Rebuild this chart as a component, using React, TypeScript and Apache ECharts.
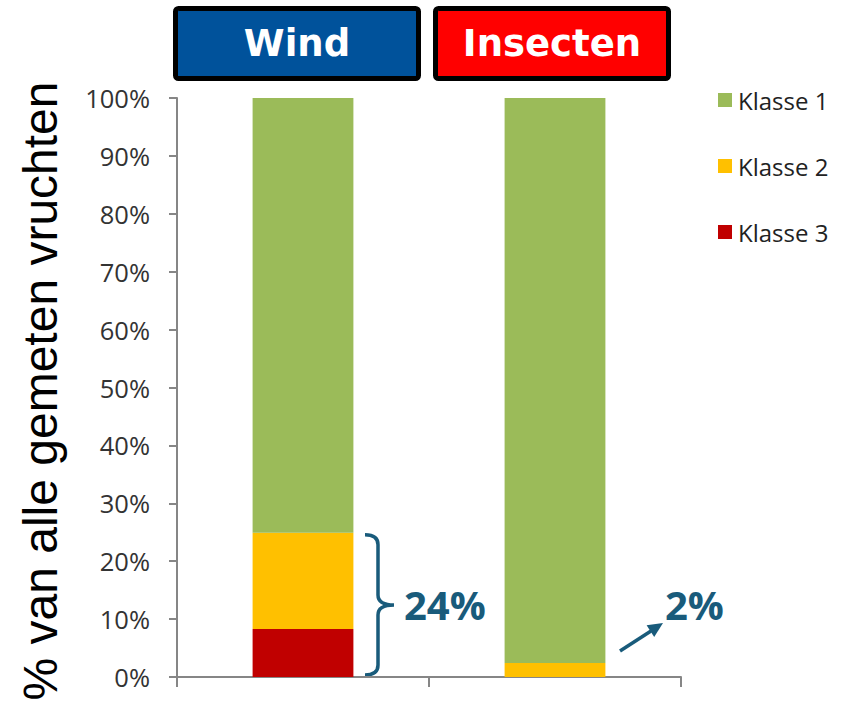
import React, { useEffect, useRef } from "react";
import * as echarts from "echarts";

const categories = ["Wind", "Insecten"];
const klasse1 = [75.1, 97.6];
const klasse2 = [16.6, 2.4];
const klasse3 = [8.3, 0];
const seriesNames = ["Klasse 1", "Klasse 2", "Klasse 3"];
const yTicks = { min: 0, max: 100, interval: 10 };
const headerLabels = ["Wind", "Insecten"];
const annotationLabels = ["24%", "2%"];

const GREEN = "#9BBB59";
const YELLOW = "#FFC000";
const RED = "#C00000";
const TEAL = "#195B7B";
const AXIS = "#868686";

export default function App() {
  const ref = useRef<HTMLDivElement>(null);

  useEffect(() => {
    if (!ref.current) return;
    const chart = echarts.init(ref.current, null, { renderer: "svg" });

    echarts.graphic.registerShape(
      "brace",
      echarts.graphic.extendPath(
        "M0,0 Q13,0 13,10 L13,60 Q13,70 29,70 Q13,70 13,80 L13,130 Q13,140 0,140",
        {}
      )
    );

    const option: any = {
      animation: false,
      grid: { left: 177, top: 98, right: 161, bottom: 29, containLabel: false },
      legend: {
        orient: "vertical",
        left: 713,
        top: 83,
        itemWidth: 14,
        itemHeight: 14,
        itemGap: 42,
        icon: "rect",
        data: seriesNames,
        textStyle: {
          fontFamily: "Open Sans",
          fontSize: 24,
          color: "#222",
          padding: [0, 0, 0, 1],
        },
      },
      xAxis: {
        type: "category",
        data: categories,
        boundaryGap: true,
        axisLine: { show: true, lineStyle: { color: AXIS, width: 2 } },
        axisTick: { show: true, length: 10, lineStyle: { color: AXIS, width: 2 } },
        axisLabel: { show: false },
        splitLine: { show: false },
      },
      yAxis: {
        type: "value",
        min: yTicks.min,
        max: yTicks.max,
        interval: yTicks.interval,
        axisLine: { show: true, lineStyle: { color: AXIS, width: 2 } },
        axisTick: { show: true, length: 8, lineStyle: { color: AXIS, width: 2 } },
        axisLabel: {
          formatter: "{value}%",
          margin: 27,
          fontFamily: "Open Sans",
          fontSize: 25.5,
          color: "#333",
        },
        splitLine: { show: false },
      },
      series: [
        {
          name: "Klasse 3",
          type: "bar",
          stack: "total",
          data: klasse3,
          barWidth: "40%",
          itemStyle: { color: RED },
        },
        {
          name: "Klasse 2",
          type: "bar",
          stack: "total",
          data: klasse2,
          barWidth: "40%",
          itemStyle: { color: YELLOW },
        },
        {
          name: "Klasse 1",
          type: "bar",
          stack: "total",
          data: klasse1,
          barWidth: "40%",
          itemStyle: { color: GREEN },
        },
      ],
    };
    chart.setOption(option);

    const windTotal = klasse2[0] + klasse3[0];
    const yTop = chart.convertToPixel({ yAxisIndex: 0 }, windTotal) as number;
    const yBottom = chart.convertToPixel({ yAxisIndex: 0 }, 0) as number;
    const braceTop = yTop + 2;
    const braceBottom = yBottom - 2;
    const braceMid = (braceTop + braceBottom) / 2;

    chart.setOption({
      graphic: [
        {
          type: "text",
          x: 40,
          y: 391,
          rotation: Math.PI / 2,
          style: {
            text: "% van alle gemeten vruchten",
            fontFamily: "Liberation Sans",
            fontSize: 48,
            fill: "#000",
            align: "center",
            verticalAlign: "middle",
          },
        },
        {
          type: "rect",
          shape: { x: 175.5, y: 8.5, width: 243, height: 70, r: 3 },
          style: { fill: "#00529B", stroke: "#000", lineWidth: 5 },
        },
        {
          type: "text",
          x: 297,
          y: 43,
          style: {
            text: headerLabels[0],
            fontFamily: "DejaVu Sans",
            fontWeight: "bold",
            fontSize: 37,
            fill: "#fff",
            align: "center",
            verticalAlign: "middle",
          },
        },
        {
          type: "rect",
          shape: { x: 435.5, y: 8.5, width: 233, height: 70, r: 3 },
          style: { fill: "#FF0000", stroke: "#000", lineWidth: 5 },
        },
        {
          type: "text",
          x: 552,
          y: 43,
          style: {
            text: headerLabels[1],
            fontFamily: "DejaVu Sans",
            fontWeight: "bold",
            fontSize: 37,
            fill: "#fff",
            align: "center",
            verticalAlign: "middle",
          },
        },
        {
          type: "brace",
          x: 365,
          y: braceTop,
          scaleX: 1,
          scaleY: (braceBottom - braceTop) / 140,
          style: { fill: null, stroke: TEAL, lineWidth: 3.5, strokeNoScale: true },
        },
        {
          type: "text",
          x: 404,
          y: braceMid,
          style: {
            text: annotationLabels[0],
            fontFamily: "Open Sans",
            fontWeight: "bold",
            fontSize: 40,
            fill: TEAL,
            align: "left",
            verticalAlign: "middle",
          },
        },
        {
          type: "text",
          x: 665,
          y: braceMid,
          style: {
            text: annotationLabels[1],
            fontFamily: "Open Sans",
            fontWeight: "bold",
            fontSize: 40,
            fill: TEAL,
            align: "left",
            verticalAlign: "middle",
          },
        },
        {
          type: "line",
          shape: { x1: 620, y1: 651, x2: 651, y2: 631 },
          style: { stroke: TEAL, lineWidth: 3.5 },
        },
        {
          type: "polygon",
          shape: {
            points: [
              [663, 623],
              [654.2, 637.1],
              [646.6, 625.3],
            ],
          },
          style: { fill: TEAL },
        },
      ],
    });

    return () => {
      chart.dispose();
    };
  }, []);

  return (
    <div
      ref={ref}
      style={{ position: "fixed", left: 0, top: 0, width: 842, height: 706, background: "#fff" }}
    />
  );
}
